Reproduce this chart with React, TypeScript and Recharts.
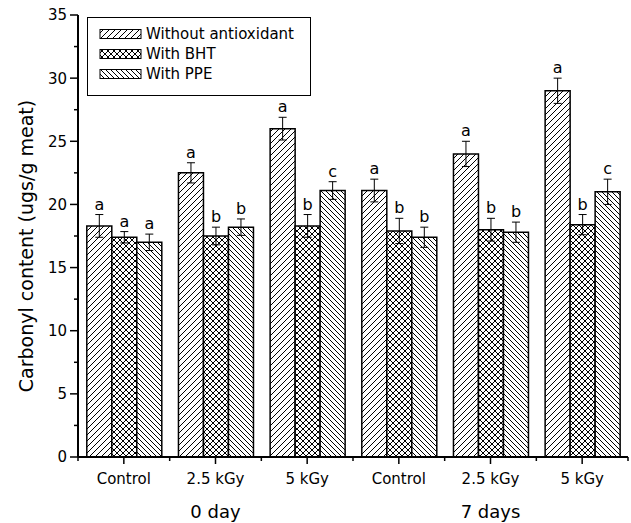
import { BarChart, Bar, XAxis, YAxis, ErrorBar, LabelList, Legend } from 'recharts';

const categories = ['Control', '2.5 kGy', '5 kGy', 'Control', '2.5 kGy', '5 kGy'];
const days = ['0 day', '0 day', '0 day', '7 days', '7 days', '7 days'];

const without = [18.3, 22.5, 26.0, 21.1, 24.0, 29.0];
const withoutErr = [0.9, 0.8, 0.9, 0.9, 1.0, 1.0];
const withoutSig = ['a', 'a', 'a', 'a', 'a', 'a'];

const bht = [17.4, 17.5, 18.3, 17.9, 18.0, 18.4];
const bhtErr = [0.45, 0.7, 0.9, 1.0, 0.9, 0.8];
const bhtSig = ['a', 'b', 'b', 'b', 'b', 'b'];

const ppe = [17.0, 18.2, 21.1, 17.4, 17.8, 21.0];
const ppeErr = [0.65, 0.65, 0.7, 0.8, 0.8, 1.0];
const ppeSig = ['a', 'b', 'c', 'b', 'b', 'c'];

const yTicks = [0, 2.5, 5, 7.5, 10, 12.5, 15, 17.5, 20, 22.5, 25, 27.5, 30, 32.5, 35];

const data = categories.map((cat, i) => ({
  cat,
  day: days[i],
  without: without[i],
  withoutErr: withoutErr[i],
  withoutSig: withoutSig[i],
  bht: bht[i],
  bhtErr: bhtErr[i],
  bhtSig: bhtSig[i],
  ppe: ppe[i],
  ppeErr: ppeErr[i],
  ppeSig: ppeSig[i],
}));

const series = [
  { key: 'without', name: 'Without antioxidant', fill: 'url(#hatchFwd)', values: without, errs: withoutErr },
  { key: 'bht', name: 'With BHT', fill: 'url(#hatchCross)', values: bht, errs: bhtErr },
  { key: 'ppe', name: 'With PPE', fill: 'url(#hatchBack)', values: ppe, errs: ppeErr },
];

const FONT = '"DejaVu Sans", sans-serif';
const axisLine = { stroke: '#000', strokeWidth: 2 };

function HatchDefs() {
  return (
    <svg width={0} height={0} style={{ position: 'absolute' }}>
      <defs>
        <pattern id="hatchFwd" patternUnits="userSpaceOnUse" width={6} height={6}>
          <rect width={6} height={6} fill="#fff" />
          <path d="M-1,1 L1,-1 M0,6 L6,0 M5,7 L7,5" stroke="#000" strokeWidth={1} />
        </pattern>
        <pattern id="hatchBack" patternUnits="userSpaceOnUse" width={5} height={5}>
          <rect width={5} height={5} fill="#fff" />
          <path d="M-1,4 L1,6 M0,0 L5,5 M4,-1 L6,1" stroke="#000" strokeWidth={1} />
        </pattern>
        <pattern id="hatchCross" patternUnits="userSpaceOnUse" width={6} height={6}>
          <rect width={6} height={6} fill="#fff" />
          <path d="M-1,1 L1,-1 M0,6 L6,0 M5,7 L7,5 M-1,5 L1,7 M0,0 L6,6 M5,-1 L7,1" stroke="#000" strokeWidth={1} />
        </pattern>
      </defs>
    </svg>
  );
}

function CatTick(props: any) {
  const { x, y, payload, index, width, visibleTicksCount } = props;
  const band = width / (visibleTicksCount || categories.length);
  const last = index === categories.length - 1;
  return (
    <g>
      <line x1={x} y1={y} x2={x} y2={y + 7} stroke="#000" strokeWidth={1.5} />
      <line x1={x - band / 2} y1={y} x2={x - band / 2} y2={y + 4} stroke="#000" strokeWidth={1.5} />
      {last && <line x1={x + band / 2} y1={y} x2={x + band / 2} y2={y + 4} stroke="#000" strokeWidth={1.5} />}
      <text x={x} y={y + 27} textAnchor="middle" fontFamily={FONT} fontSize={15} fill="#000">
        {payload.value}
      </text>
    </g>
  );
}

function DayTick(props: any) {
  const { x, y, index } = props;
  const d = days[index];
  const mid = days[index - 1] === d && days[index + 1] === d;
  if (!mid) return <g />;
  return (
    <text x={x} y={y + 31} textAnchor="middle" fontFamily={FONT} fontSize={18} fill="#000">
      {d}
    </text>
  );
}

function ValTick(props: any) {
  const { x, y, payload } = props;
  const major = payload.value % 5 === 0;
  return (
    <g>
      <line x1={x} y1={y} x2={x - (major ? 8 : 4)} y2={y} stroke="#000" strokeWidth={1.5} />
      {major && (
        <text x={x - 11} y={y} dy="0.36em" textAnchor="end" fontFamily={FONT} fontSize={15} fill="#000">
          {payload.value}
        </text>
      )}
    </g>
  );
}

function YLabel(props: any) {
  const vb = props.viewBox || { x: 0, y: 15, width: 78, height: 442 };
  const cy = vb.y + vb.height / 2 + 10;
  return (
    <text x={33} y={cy} transform={`rotate(-90 33 ${cy})`} textAnchor="middle" fontFamily={FONT} fontSize={19} fill="#000">
      Carbonyl content (ugs/g meat)
    </text>
  );
}

const sigLabel = (values: number[], errs: number[]) => (props: any) => {
  const vb = props.viewBox || {};
  const x = props.x ?? vb.x;
  const y = props.y ?? vb.y;
  const w = props.width ?? vb.width;
  const h = props.height ?? vb.height;
  const i = props.index;
  const perUnit = h / values[i];
  const top = y - errs[i] * perUnit;
  return (
    <text x={x + w / 2} y={top - 5} textAnchor="middle" fontFamily={FONT} fontSize={16} fill="#000">
      {props.value}
    </text>
  );
};

function LegendBox() {
  return (
    <div
      style={{
        border: '1px solid #000',
        width: 222,
        height: 71,
        boxSizing: 'content-box',
        background: '#fff',
        paddingTop: 6,
        fontFamily: FONT,
        fontSize: 15,
      }}
    >
      {series.map((s) => (
        <div key={s.key} style={{ display: 'flex', alignItems: 'center', height: 20, lineHeight: '20px' }}>
          <svg width={47} height={12} style={{ marginLeft: 11 }}>
            <rect x={1} y={1.5} width={41} height={9} fill={s.fill} stroke="#000" strokeWidth={1} />
          </svg>
          <span style={{ color: '#000' }}>{s.name}</span>
        </div>
      ))}
    </div>
  );
}

export default function App() {
  return (
    <div style={{ position: 'absolute', left: 0, top: 0, width: 631, height: 523, background: '#fff' }}>
      <HatchDefs />
      <BarChart
        width={631}
        height={523}
        data={data}
        margin={{ top: 15, right: 3, left: 0, bottom: 0 }}
        barCategoryGap="9.6%"
        barGap={0}
      >
        <XAxis
          dataKey="cat"
          height={30}
          interval={0}
          tickSize={0}
          tickMargin={0}
          tickLine={false}
          axisLine={axisLine}
          tick={<CatTick />}
        />
        <XAxis
          xAxisId="day"
          dataKey="day"
          height={36}
          interval={0}
          tickSize={0}
          tickMargin={0}
          tickLine={false}
          axisLine={false}
          tick={<DayTick />}
        />
        <XAxis xAxisId="top" orientation="top" dataKey="cat" height={0} tick={false} tickLine={false} axisLine={axisLine} />
        <YAxis
          domain={[0, 35]}
          ticks={yTicks}
          interval={0}
          width={78}
          tickSize={0}
          tickMargin={0}
          tickLine={false}
          axisLine={axisLine}
          tick={<ValTick />}
          label={<YLabel />}
        />
        <YAxis yAxisId="right" orientation="right" domain={[0, 35]} width={0} tick={false} tickLine={false} axisLine={axisLine} />
        <Legend
          layout="vertical"
          align="center"
          verticalAlign="middle"
          wrapperStyle={{ top: 17, left: 87, width: 'auto' }}
          content={() => <LegendBox />}
        />
        {series.map((s) => (
          <Bar key={s.key} dataKey={s.key} name={s.name} fill={s.fill} stroke="#000" strokeWidth={1.5} isAnimationActive={false}>
            <ErrorBar dataKey={`${s.key}Err`} width={4} stroke="#000" strokeWidth={1} />
            <LabelList dataKey={`${s.key}Sig`} content={sigLabel(s.values, s.errs)} />
          </Bar>
        ))}
      </BarChart>
    </div>
  );
}
